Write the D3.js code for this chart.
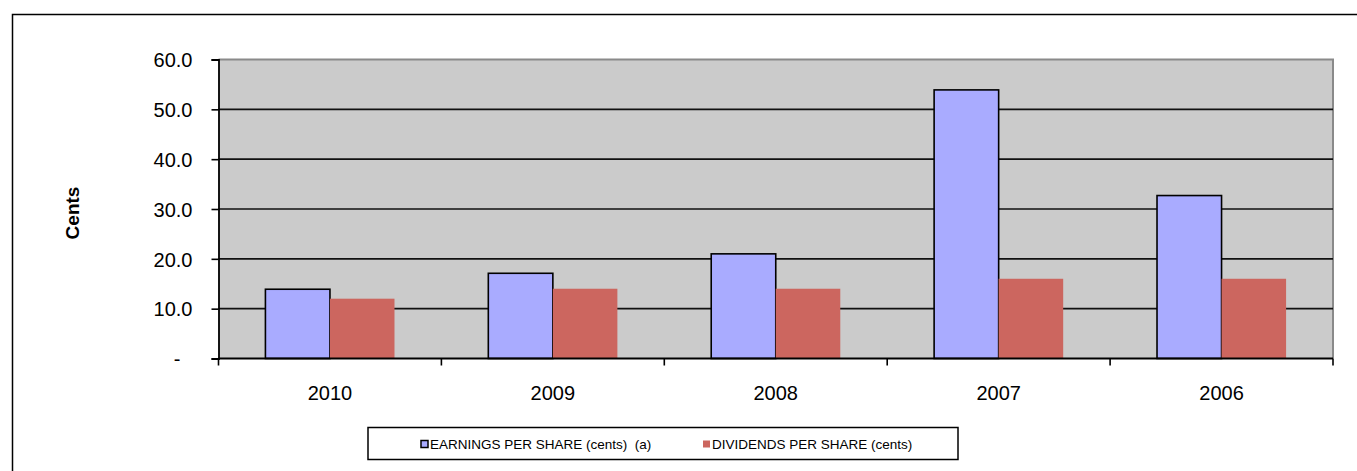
<!DOCTYPE html>
<html>
<head>
<meta charset="utf-8">
<script src="https://cdn.jsdelivr.net/npm/d3@7"></script>
<style>
  html, body { margin: 0; padding: 0; background: #fff; }
  svg { display: block; font-family: "Liberation Sans", Arial, sans-serif; }
</style>
</head>
<body>
<svg id="chart" width="1357" height="471"></svg>
<script>
// Per-share figures, most recent year first
const years = ["2010", "2009", "2008", "2007", "2006"];
const earningsPerShare = [13.9, 17.1, 21.0, 53.9, 32.7];
const dividendsPerShare = [12.0, 14.0, 14.0, 16.0, 16.0];
const seriesNames = ["EARNINGS PER SHARE (cents)\u00a0\u00a0(a)", "DIVIDENDS PER SHARE (cents)"];
const yTicks = [0, 10, 20, 30, 40, 50, 60];

const svg = d3.select("#chart");

// outer chart frame
svg.append("rect")
  .attr("x", 12.5).attr("y", 14.5)
  .attr("width", 1400).attr("height", 500)
  .attr("fill", "#fff").attr("stroke", "#000").attr("stroke-width", 1.5);

const plot = { left: 218.5, right: 1333, top: 59.5, bottom: 358.5 };

const x = d3.scaleBand().domain(years).range([plot.left, plot.right]).padding(0);
const xInner = d3.scaleBand().domain([0, 1]).range([0, x.bandwidth()])
  .paddingInner(0).paddingOuter(0.727);
const y = d3.scaleLinear().domain([0, 60]).range([plot.bottom, plot.top]);

// plot area background
svg.append("rect")
  .attr("x", plot.left).attr("y", plot.top)
  .attr("width", plot.right - plot.left).attr("height", plot.bottom - plot.top)
  .attr("fill", "#cbcbcb");

// top and right border of the plot area
svg.append("path")
  .attr("d", `M${plot.left},${plot.top}H${plot.right}V${plot.bottom}`)
  .attr("fill", "none").attr("stroke", "#8a8a8a").attr("stroke-width", 2);

// horizontal gridlines
svg.append("g").selectAll("line")
  .data(yTicks.filter(t => t > 0 && t < 60))
  .join("line")
  .attr("x1", plot.left).attr("x2", plot.right)
  .attr("y1", d => y(d)).attr("y2", d => y(d))
  .attr("stroke", "#111").attr("stroke-width", 1.7);

const colors = ["#a9abff", "#cc665f"];
const seriesData = [earningsPerShare, dividendsPerShare];

// bars
seriesData.forEach((vals, si) => {
  svg.append("g").selectAll("rect")
    .data(vals)
    .join("rect")
    .attr("x", (d, i) => x(years[i]) + xInner(si))
    .attr("y", d => y(d))
    .attr("width", xInner.bandwidth())
    .attr("height", d => y(0) - y(d))
    .attr("fill", colors[si])
    .attr("stroke", si === 0 ? "#000" : "none")
    .attr("stroke-width", 1.6);
});

// y axis
const yAxis = d3.axisLeft(y)
  .tickValues(yTicks)
  .tickSize(7)
  .tickPadding(19)
  .tickFormat(d => d === 0 ? "-" : d.toFixed(1));
const gy = svg.append("g").attr("transform", `translate(${plot.left},0)`).call(yAxis);
gy.select(".domain").attr("stroke", "#000").attr("stroke-width", 1.8);
gy.selectAll(".tick line").attr("stroke", "#000").attr("stroke-width", 1.6);
gy.selectAll(".tick text")
  .attr("font-size", 20).attr("fill", "#000")
  .attr("font-family", "Liberation Sans, Arial, sans-serif")
  .attr("dy", "0.36em")
  .filter(d => d === 0).attr("dx", -12);

// x axis with ticks at category boundaries
const xAxisG = svg.append("g").attr("transform", `translate(0,${plot.bottom})`);
xAxisG.append("line")
  .attr("x1", plot.left).attr("x2", plot.right)
  .attr("stroke", "#000").attr("stroke-width", 1.8);
xAxisG.selectAll("line.tk")
  .data(years.map(d => x(d)).concat([plot.right]))
  .join("line").attr("class", "tk")
  .attr("x1", d => d).attr("x2", d => d)
  .attr("y1", 0).attr("y2", 7)
  .attr("stroke", "#000").attr("stroke-width", 1.6);
xAxisG.selectAll("text")
  .data(years)
  .join("text")
  .attr("x", d => x(d) + x.bandwidth() / 2)
  .attr("y", 41)
  .attr("text-anchor", "middle")
  .attr("font-size", 20)
  .text(d => d);

// y axis title
svg.append("text")
  .attr("transform", "translate(79,213) rotate(-90)")
  .attr("text-anchor", "middle")
  .attr("font-size", 19)
  .attr("font-weight", "bold")
  .text("Cents");

// legend
const legend = svg.append("g");
legend.append("rect")
  .attr("x", 368).attr("y", 427.5).attr("width", 590).attr("height", 32)
  .attr("fill", "#fff").attr("stroke", "#000").attr("stroke-width", 1.5);
const legendX = [421, 703];
seriesNames.forEach((name, i) => {
  legend.append("rect")
    .attr("x", legendX[i]).attr("y", 440.5)
    .attr("width", 7).attr("height", 7)
    .attr("fill", colors[i])
    .attr("stroke", i === 0 ? "#000" : "none")
    .attr("stroke-width", 1.5);
  legend.append("text")
    .attr("x", legendX[i] + 9).attr("y", 449)
    .attr("font-size", 13.5)
    .text(name);
});
</script>
</body>
</html>
